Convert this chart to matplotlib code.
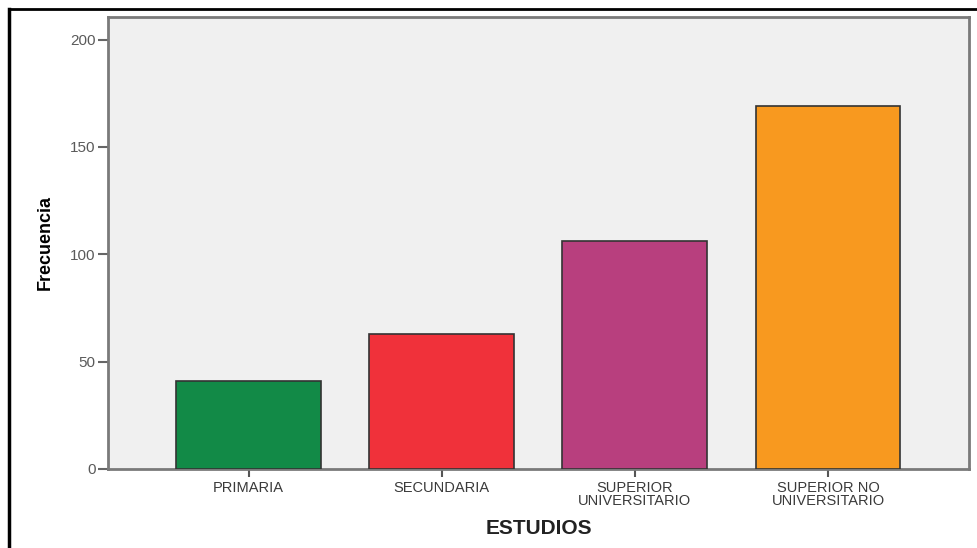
import matplotlib.pyplot as plt
from matplotlib.lines import Line2D

categorias = ["PRIMARIA", "SECUNDARIA", "SUPERIOR\nUNIVERSITARIO", "SUPERIOR NO\nUNIVERSITARIO"]
frecuencias = [41, 63, 106, 169]
colores = ["#128a47", "#f0313a", "#b83f7e", "#f8991f"]
yticks = [0, 50, 100, 150, 200]

plt.rcParams['font.family'] = ['Liberation Sans', 'DejaVu Sans']

fig = plt.figure(figsize=(9.78, 5.48), dpi=100)
ax = fig.add_axes([108/978, 1 - 469/548, (969 - 108)/978, (469 - 17)/548])
ax.set_facecolor("#f0f0f0")

x = range(len(categorias))
ax.bar(x, frecuencias, width=0.75, color=colores, edgecolor="#333333", linewidth=1.2, zorder=3)

ax.set_xlim(-0.728, 3.73)
ax.set_ylim(0, 210.5)
ax.set_yticks(yticks)
ax.set_xticks(list(x))
ax.set_xticklabels(categorias, fontsize=10.5, color="#3a3a3a", linespacing=0.82)
ax.tick_params(axis='y', labelsize=11, labelcolor="#5a5a5a", color="#666666", length=7, width=1.5, pad=2)
ax.tick_params(axis='x', color="#555555", length=6, width=1.5, pad=3)

for s in ax.spines.values():
    s.set_color("#7a7a7a")
    s.set_linewidth(2)

ax.set_ylabel("Frecuencia", fontsize=13, fontweight='bold',
              family=['Liberation Sans Narrow', 'Liberation Sans'], labelpad=12)
ax.set_xlabel("ESTUDIOS", fontsize=15, fontweight='bold', color="#222222", labelpad=8)

# marco exterior
fig.add_artist(Line2D([9/978, 1], [1 - 9/548, 1 - 9/548], color="black", lw=2))
fig.add_artist(Line2D([9/978, 9/978], [0, 1 - 9/548], color="black", lw=2.5))

fig.savefig("out.png", dpi=100)
